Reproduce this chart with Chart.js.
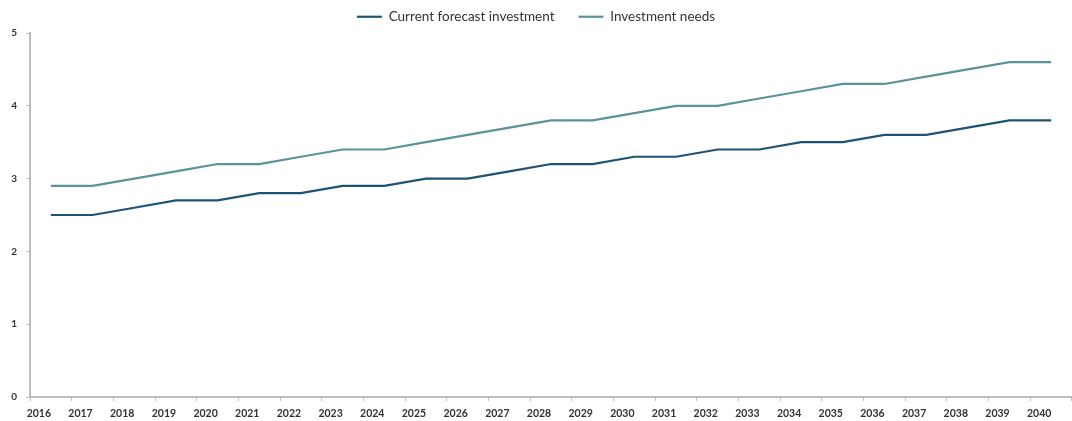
<!DOCTYPE html>
<html>
<head>
<meta charset="utf-8">
<script src="https://cdn.jsdelivr.net/npm/chart.js@4"></script>
<style>
  html, body { margin: 0; padding: 0; background: #ffffff; }
  #wrap { width: 1072px; height: 421px; position: relative; }
</style>
</head>
<body>
<div id="wrap"><canvas id="chart"></canvas></div>
<script>
// Years on the horizontal axis
const years = ['2016','2017','2018','2019','2020','2021','2022','2023','2024','2025','2026','2027','2028',
               '2029','2030','2031','2032','2033','2034','2035','2036','2037','2038','2039','2040'];

// Current forecast investment per year
const currentForecast = [2.5, 2.5, 2.6, 2.7, 2.7, 2.8, 2.8, 2.9, 2.9, 3.0, 3.0, 3.1, 3.2,
                         3.2, 3.3, 3.3, 3.4, 3.4, 3.5, 3.5, 3.6, 3.6, 3.7, 3.8, 3.8];

// Investment needs per year
const investmentNeeds = [2.9, 2.9, 3.0, 3.1, 3.2, 3.2, 3.3, 3.4, 3.4, 3.5, 3.6, 3.7, 3.8,
                         3.8, 3.9, 4.0, 4.0, 4.1, 4.2, 4.3, 4.3, 4.4, 4.5, 4.6, 4.6];

// Value axis ticks
const yTicks = [0, 1, 2, 3, 4, 5];

const axisGrey = '#bfbfbf';
const textColor = '#333333';

// Legend padding sets the gap between items; its block height is then fixed
// so the wide item spacing does not push the plot area down.
const legendHeight = 47;
const legendHeightPlugin = {
  id: 'legendHeight',
  afterInit(chart) {
    const legend = chart.legend;
    if (!legend) return;
    const baseFit = legend.fit.bind(legend);
    legend.fit = function () {
      baseFit();
      this.height = legendHeight;
    };
  }
};

new Chart(document.getElementById('chart'), {
  type: 'line',
  data: {
    labels: years,
    datasets: [
      {
        label: 'Current forecast investment',
        data: currentForecast,
        borderColor: '#1f5373',
        backgroundColor: '#1f5373',
        borderWidth: 2.2,
        pointRadius: 0,
        tension: 0
      },
      {
        label: 'Investment needs',
        data: investmentNeeds,
        borderColor: '#5b9399',
        backgroundColor: '#5b9399',
        borderWidth: 2.2,
        pointRadius: 0,
        tension: 0
      }
    ]
  },
  plugins: [legendHeightPlugin],
  options: {
    responsive: true,
    maintainAspectRatio: false,
    animation: false,
    layout: { padding: { top: -14, right: 0, bottom: 0, left: 0 } },
    plugins: {
      tooltip: { enabled: false },
      legend: {
        position: 'top',
        align: 'center',
        labels: {
          usePointStyle: true,
          pointStyle: 'line',
          pointStyleWidth: 25,
          padding: 24,
          color: textColor,
          font: { family: 'Lato', size: 13.5 }
        }
      }
    },
    scales: {
      x: {
        type: 'category',
        offset: true,
        afterFit: (scale) => { scale.height = 24; },
        border: { display: true, color: axisGrey, width: 2 },
        grid: { display: true, offset: true, drawOnChartArea: false, drawTicks: true, tickLength: 4, color: axisGrey, lineWidth: 1 },
        ticks: {
          autoSkip: false,
          maxRotation: 0,
          labelOffset: -12,
          padding: 6,
          color: textColor,
          font: { family: 'Lato', size: 10.5, weight: 'bold' }
        }
      },
      y: {
        min: 0,
        max: 5,
        afterFit: (scale) => { scale.width = 30; },
        afterBuildTicks: (scale) => { scale.ticks = yTicks.map(v => ({ value: v })); },
        border: { display: true, color: axisGrey, width: 2 },
        grid: { display: true, drawOnChartArea: false, drawTicks: true, tickLength: 4, color: axisGrey, lineWidth: 1 },
        ticks: {
          padding: 9,
          color: textColor,
          font: { family: 'Lato', size: 10, weight: 'bold' }
        }
      }
    }
  }
});
</script>
</body>
</html>
